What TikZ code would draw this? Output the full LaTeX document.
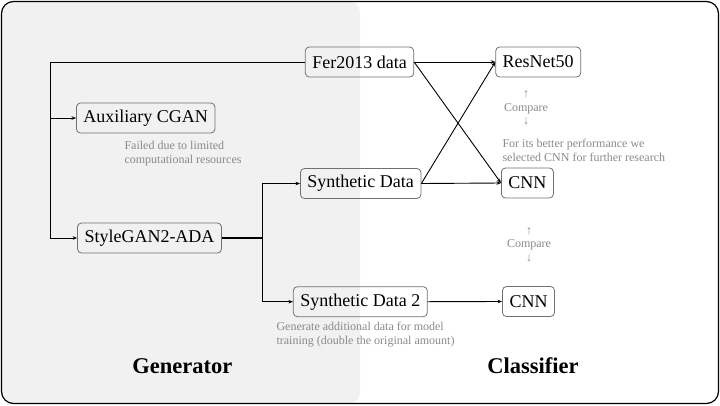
\documentclass[tikz,border=0pt]{standalone}
\usepackage{fontspec}
\setmainfont{Liberation Serif}
\usetikzlibrary{arrows.meta}
\definecolor{panelgray}{HTML}{F1F1F1}
\definecolor{notegray}{HTML}{8A8A8A}
\definecolor{boxline}{HTML}{707070}
\begin{document}
\begin{tikzpicture}[x=1pt, y=-1pt, >={Stealth[length=4.5pt,width=3.5pt]},
    box/.style={draw=boxline, line width=0.8pt, rounded corners=4pt, minimum height=30pt, inner xsep=7pt, font=\fontsize{18}{20}\selectfont},
    link/.style={->, line width=0.9pt},
    note/.style={text=notegray, align=left, font=\fontsize{12}{14}\selectfont},
    cmp/.style={text=notegray, align=center, font=\fontsize{12}{13.5}\selectfont},
    title/.style={font=\fontsize{22.5}{25}\selectfont\bfseries, anchor=base}]
    \useasboundingbox (0,0) rectangle (720,405);
    \fill[panelgray, rounded corners=11pt] (1.5,1.5) rectangle (360,403.5);
    \draw[line width=1.2pt, rounded corners=12pt] (1.5,1.5) rectangle (718.5,403.5);

    \node[box] (fer) at (359.5,62) {Fer2013 data};
    \node[box] (aux) at (145.7,118) {Auxiliary CGAN};
    \node[box] (style) at (149.5,238) {StyleGAN2-ADA};
    \node[box] (synth) at (360.7,183.5) {Synthetic Data};
    \node[box] (synthb) at (360.3,301.7) {Synthetic Data 2};
    \node[box] (resnet) at (538.2,62) {ResNet50};
    \node[box] (cnna) at (527.4,183) {CNN};
    \node[box] (cnnb) at (528.5,301.5) {CNN};

    \coordinate (split) at (50,62);
    \coordinate (fork) at (262,238);

    \draw[link] (fer.west) -- (split) |- (aux.west);
    \draw[link] (fer.west) -- (split) |- (style.west);
    \draw[line width=1.8pt] (style.east) -- (fork);
    \draw[link] (fork) |- (synth.west);
    \draw[link] (fork) |- (synthb.west);
    \draw[link] (fer.east) -- (resnet.west);
    \draw[link] (fer.east) -- (cnna.west);
    \draw[link] (synth.east) -- (cnna.west);
    \draw[link] (synth.east) -- (resnet.west);
    \draw[link] (synthb.east) -- (cnnb.west);

    \node[note, anchor=west] (failnote) at (121,154) {Failed due to limited\\computational resources};
    \node[note, anchor=west] (choicenote) at (499,150) {For its better performance we\\selected CNN for further research};
    \node[note, anchor=west] (gennote) at (273,334.5) {Generate additional data for model\\training (double the original amount)};
    \node[cmp] (cmpa) at (526,108) {↑\\Compare\\↓};
    \node[cmp] (cmpb) at (529,244.5) {↑\\Compare\\↓};

    \node[title] (gentitle) at (182.3,373) {Generator};
    \node[title] (clstitle) at (533,373) {Classifier};
\end{tikzpicture}
\end{document}
